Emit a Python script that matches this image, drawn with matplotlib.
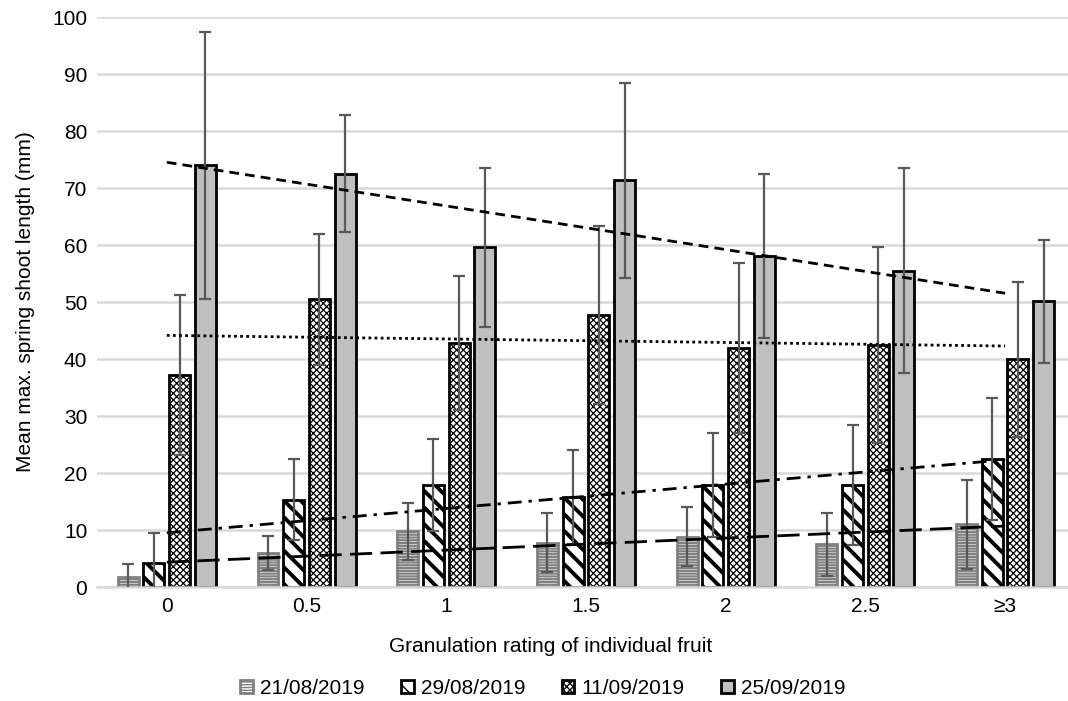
import numpy as np
import matplotlib
matplotlib.use('Agg')
import matplotlib.pyplot as plt

plt.rcParams['font.family'] = ['Liberation Sans', 'DejaVu Sans']

categories = ['0', '0.5', '1', '1.5', '2', '2.5', '\u22653']
series = ['21/08/2019', '29/08/2019', '11/09/2019', '25/09/2019']

mean_2108 = [1.8, 6.0, 9.8, 7.8, 8.8, 7.5, 11.0]
err_2108 = [2.3, 3.0, 5.0, 5.2, 5.2, 5.5, 7.8]
mean_2908 = [4.2, 15.3, 17.9, 15.8, 17.9, 17.9, 22.4]
err_2908 = [5.3, 7.1, 8.1, 8.3, 9.2, 10.5, 10.7]
mean_1109 = [37.2, 50.5, 42.8, 47.7, 41.9, 42.4, 40.0]
err_1109 = [14.0, 11.5, 11.8, 15.6, 14.9, 17.2, 13.6]
mean_2509 = [74.0, 72.5, 59.6, 71.4, 58.1, 55.5, 50.1]
err_2509 = [23.4, 10.3, 13.9, 17.1, 14.4, 18.0, 10.8]

means = [mean_2108, mean_2908, mean_1109, mean_2509]
errs = [err_2108, err_2908, err_1109, err_2509]

# bar styles: face, edge, hatch, hatch linewidth
styles = [
    ('white', '#808080', '------', 1.6),
    ('white', 'black', '\\\\', 2.8),
    ('white', 'black', 'xxxxx', 0.9),
    ('#bfbfbf', 'black', None, 1.0),
]
trend_styles = [(0, (8, 3)), (0, (5, 2.5, 1.2, 2.5)), (0, (1, 1.2)), (0, (3.5, 2.2))]

fig = plt.figure(figsize=(10.68, 7.01), dpi=100)
ax = fig.add_axes([0.0908, 0.1626, 0.9157, 0.8131])

x = np.arange(len(categories))
bw = 0.15
step = 0.184
handles = []
for i, (m, e) in enumerate(zip(means, errs)):
    fc, ec, h, hlw = styles[i]
    xs = x + (i - 1.5) * step
    with plt.rc_context({'hatch.linewidth': hlw}):
        bars = ax.bar(xs, m, bw, color=fc, edgecolor=ec, hatch=h, linewidth=2.0,
                      label=series[i], zorder=2)
    handles.append(bars)
    ax.errorbar(xs, m, yerr=e, fmt='none', ecolor='#595959', elinewidth=1.6,
                capsize=4.5, capthick=1.6, zorder=3)

# linear trendlines
for i, m in enumerate(means):
    k, b = np.polyfit(x, m, 1)
    xt = np.array([x[0], x[-1]])
    ax.plot(xt, k * xt + b, color='black', linewidth=2.0,
            linestyle=trend_styles[i], zorder=4)

ax.set_ylim(0, 100)
ax.set_xlim(-0.5, len(categories) - 0.5)
ax.set_yticks(np.arange(0, 101, 10))
ax.set_xticks(x)
ax.set_xticklabels(categories)
ax.tick_params(axis='both', length=0, labelsize=15, pad=7)
ax.yaxis.grid(True, color='#d9d9d9', linewidth=1.8, zorder=0)
ax.set_axisbelow(True)
for s in ['top', 'right', 'left']:
    ax.spines[s].set_visible(False)
ax.spines['bottom'].set_color('#d9d9d9')
ax.spines['bottom'].set_linewidth(1.8)

fig.text(551 / 1068, 1 - 647 / 701, 'Granulation rating of individual fruit',
         fontsize=15, ha='center', va='center')
ax.set_ylabel('Mean max. spring shoot length (mm)', fontsize=15, labelpad=12)

fig.legend(handles=handles, labels=series, loc='center',
           bbox_to_anchor=(543 / 1068, 1 - 688 / 701), ncol=4,
           frameon=False, fontsize=15, handlelength=0.6, handleheight=0.6,
           handletextpad=0.35, columnspacing=1.75)

fig.savefig('out.png', dpi=100)
